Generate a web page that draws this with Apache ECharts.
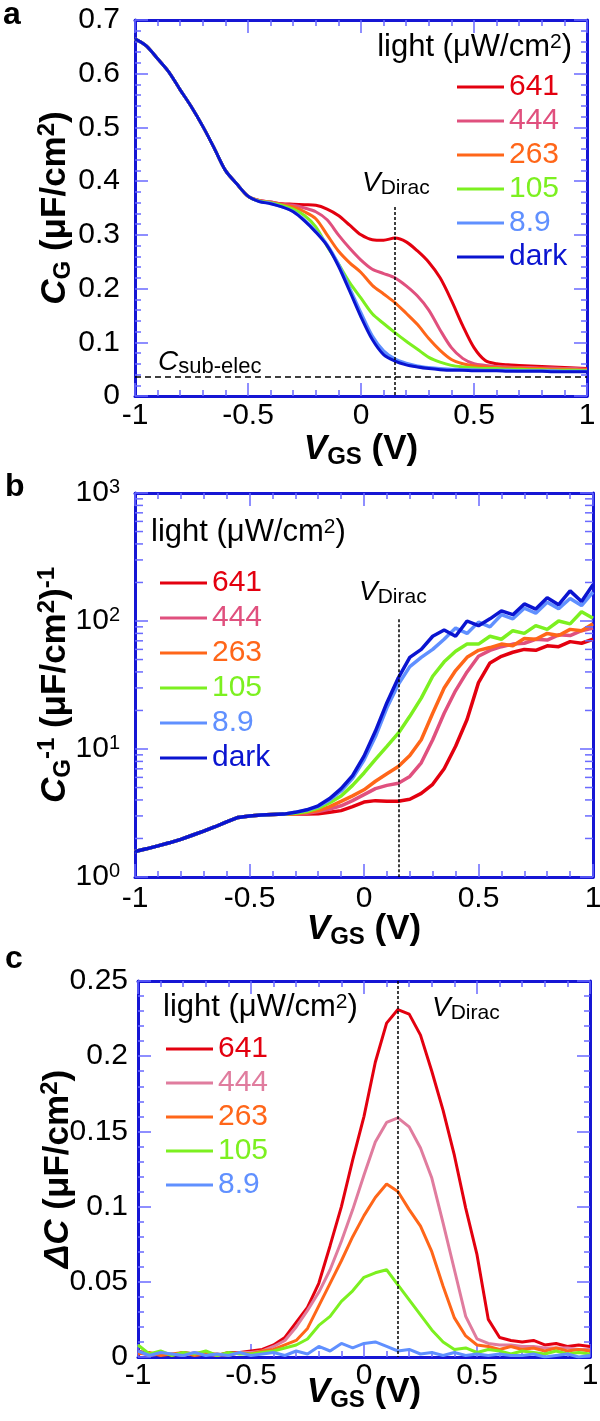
<!DOCTYPE html>
<html>
<head>
<meta charset="utf-8">
<script src="https://cdn.jsdelivr.net/npm/echarts@6.0.0/dist/echarts.min.js"></script>
<style>
html, body { margin: 0; padding: 0; background: #fff; }
#chart { width: 600px; height: 1421px; }
</style>
</head>
<body>
<div id="chart"></div>
<script>
var FONT = 'Liberation Sans, Arial, sans-serif';
var frameColor = '#1616d4';
var tickColor = '#6a6aff';

// legend names and line colours (641, 444, 263, 105, 8.9, dark)
var legendNames = ['641', '444', '263', '105', '8.9', 'dark'];
var lineColors = ['#e3000f', '#e0507e', '#ff6619', '#7cf020', '#6090ff', '#0a14d0'];
var pinkC = '#e07c9e';

// gate voltage V_GS (V)
var vgs = [-1, -0.95, -0.9, -0.85, -0.8, -0.75, -0.7, -0.65, -0.6, -0.55, -0.5, -0.45, -0.4, -0.35, -0.3, -0.25, -0.2, -0.15, -0.1, -0.05,
    0, 0.05, 0.1, 0.15, 0.2, 0.25, 0.3, 0.35, 0.4, 0.45, 0.5, 0.55, 0.6, 0.65, 0.7, 0.75, 0.8, 0.85, 0.9, 0.95, 1];

// panel a : C_G (uF/cm2)
var cgRed = [0.665, 0.652, 0.628, 0.603, 0.570, 0.538, 0.502, 0.462, 0.420, 0.395, 0.372, 0.364, 0.361,
    0.358, 0.357, 0.356, 0.355, 0.348, 0.336, 0.318, 0.300, 0.291, 0.290, 0.294, 0.287, 0.270, 0.249, 0.220, 0.178, 0.131, 0.090,
    0.066, 0.060, 0.058, 0.057, 0.056, 0.055, 0.054, 0.053, 0.052, 0.051];
var cgPink = [0.665, 0.652, 0.628, 0.603, 0.570, 0.538, 0.502, 0.462, 0.420, 0.395, 0.372, 0.364, 0.361,
    0.357, 0.355, 0.350, 0.343, 0.328, 0.300, 0.275, 0.253, 0.236, 0.228, 0.220, 0.205, 0.186, 0.160, 0.123, 0.090, 0.070, 0.060,
    0.057, 0.055, 0.054, 0.053, 0.053, 0.052, 0.052, 0.051, 0.051, 0.050];
var cgOrange = [0.665, 0.652, 0.628, 0.603, 0.570, 0.538, 0.502, 0.462, 0.420, 0.395, 0.372, 0.363, 0.360,
    0.356, 0.352, 0.343, 0.330, 0.300, 0.270, 0.248, 0.230, 0.206, 0.190, 0.174, 0.154, 0.133, 0.107, 0.085, 0.068, 0.060, 0.056,
    0.054, 0.053, 0.052, 0.052, 0.051, 0.051, 0.050, 0.050, 0.049, 0.049];
var cgGreen = [0.665, 0.652, 0.628, 0.603, 0.570, 0.538, 0.502, 0.462, 0.420, 0.395, 0.372, 0.363, 0.360,
    0.355, 0.348, 0.336, 0.315, 0.279, 0.246, 0.211, 0.182, 0.153, 0.135, 0.118, 0.102, 0.087, 0.072, 0.063, 0.057, 0.054, 0.052,
    0.051, 0.051, 0.050, 0.050, 0.049, 0.049, 0.048, 0.048, 0.048, 0.047];
var cgLight = [0.665, 0.652, 0.628, 0.603, 0.570, 0.538, 0.502, 0.462, 0.420, 0.395, 0.372, 0.362, 0.359,
    0.352, 0.344, 0.328, 0.307, 0.282, 0.246, 0.201, 0.155, 0.112, 0.084, 0.069, 0.061, 0.056, 0.053, 0.051, 0.050, 0.049, 0.049,
    0.048, 0.048, 0.048, 0.047, 0.047, 0.047, 0.047, 0.046, 0.046, 0.046];
var cgDark = [0.665, 0.652, 0.628, 0.603, 0.570, 0.538, 0.502, 0.462, 0.420, 0.395, 0.372, 0.362, 0.358,
    0.352, 0.343, 0.326, 0.305, 0.280, 0.242, 0.195, 0.147, 0.105, 0.077, 0.065, 0.058, 0.054, 0.051, 0.049, 0.048, 0.048, 0.047,
    0.047, 0.047, 0.046, 0.046, 0.046, 0.046, 0.045, 0.045, 0.045, 0.045];

// panel b : C_G^-1 (uF/cm2)^-1
var invRed = [1.58, 1.66, 1.75, 1.85, 1.97, 2.12, 2.28, 2.47, 2.7, 2.92, 3.0, 3.05, 3.08, 3.1,
    3.1, 3.11, 3.12, 3.2, 3.3, 3.55, 3.85, 3.95, 3.9, 3.9, 4.05, 4.5, 5.3, 7.0, 10.5, 17, 33,
    47, 53, 57, 60, 59, 64, 63, 69, 67, 72];
var invPink = [1.58, 1.66, 1.75, 1.85, 1.97, 2.12, 2.28, 2.47, 2.7, 2.92, 3.0, 3.05, 3.08, 3.1,
    3.1, 3.15, 3.25, 3.4, 3.6, 3.95, 4.4, 4.9, 5.2, 5.4, 6.1, 7.8, 11.8, 19, 28.6, 40, 53,
    59, 63, 66, 67, 72, 71, 78, 77, 84, 88];
var invOrange = [1.58, 1.66, 1.75, 1.85, 1.97, 2.12, 2.28, 2.47, 2.7, 2.92, 3.0, 3.05, 3.08, 3.1,
    3.1, 3.2, 3.3, 3.55, 3.9, 4.3, 4.8, 5.6, 6.4, 7.3, 8.9, 11.8, 19, 30, 41, 52, 59,
    62, 66, 64, 73, 72, 80, 77, 86, 84, 95];
var invGreen = [1.58, 1.66, 1.75, 1.85, 1.97, 2.12, 2.28, 2.47, 2.7, 2.92, 3.0, 3.05, 3.08, 3.1,
    3.15, 3.25, 3.45, 3.8, 4.3, 5.2, 6.5, 8.3, 10.5, 13.3, 18, 25, 37, 48, 58, 66, 66,
    76, 72, 84, 80, 92, 86, 100, 95, 118, 105];
var invLight = [1.58, 1.66, 1.75, 1.85, 1.97, 2.12, 2.28, 2.47, 2.7, 2.92, 3.0, 3.05, 3.08, 3.1,
    3.2, 3.33, 3.55, 4.0, 4.7, 5.9, 8.2, 12.5, 21, 32, 44, 52, 60, 72, 88, 80, 98,
    90, 112, 104, 126, 115, 140, 125, 150, 132, 168];
var invDark = [1.58, 1.66, 1.75, 1.85, 1.97, 2.12, 2.28, 2.47, 2.7, 2.92, 3.0, 3.05, 3.08, 3.1,
    3.2, 3.35, 3.6, 4.1, 4.9, 6.2, 8.8, 13.8, 23, 36, 52, 60, 76, 85, 76, 100, 92,
    104, 120, 112, 136, 124, 152, 134, 172, 142, 192];

// panel c : delta C (uF/cm2)
var dcRed = [0.004, 0.002, 0.003, 0.001, 0.003, 0.002, 0.003, 0.001, 0.003, 0.003, 0.004,
    0.005, 0.008, 0.013, 0.023, 0.033, 0.049, 0.074, 0.100, 0.131, 0.160,
    0.196, 0.222, 0.231, 0.228, 0.214, 0.190, 0.164, 0.134, 0.099, 0.068,
    0.025, 0.013, 0.011, 0.010, 0.011, 0.008, 0.009, 0.007, 0.008, 0.007];
var dcPink = [0.003, 0.001, 0.002, 0.002, 0.001, 0.003, 0.002, 0.001, 0.002, 0.003, 0.003,
    0.004, 0.007, 0.011, 0.020, 0.031, 0.043, 0.058, 0.077, 0.098, 0.121,
    0.143, 0.156, 0.159, 0.153, 0.139, 0.119, 0.089, 0.058, 0.027, 0.012,
    0.009, 0.008, 0.008, 0.007, 0.007, 0.006, 0.006, 0.006, 0.005, 0.005];
var dcOrange = [0.002, 0.003, 0.001, 0.002, 0.003, 0.001, 0.002, 0.002, 0.001, 0.003, 0.002,
    0.004, 0.005, 0.008, 0.011, 0.019, 0.034, 0.049, 0.064, 0.080, 0.094,
    0.106, 0.115, 0.110, 0.098, 0.087, 0.070, 0.047, 0.026, 0.014, 0.008,
    0.007, 0.005, 0.007, 0.005, 0.006, 0.004, 0.006, 0.004, 0.005, 0.004];
var dcGreen = [0.008, 0.002, 0.004, 0.001, 0.003, 0.002, 0.004, 0.001, 0.003, 0.002, 0.002,
    0.003, 0.004, 0.006, 0.008, 0.012, 0.021, 0.027, 0.037, 0.044, 0.053,
    0.056, 0.058, 0.048, 0.038, 0.028, 0.018, 0.010, 0.005, 0.006, 0.003,
    0.005, 0.004, 0.002, 0.004, 0.003, 0.002, 0.004, 0.002, 0.003, 0.002];
var dcLight = [0.004, 0.001, 0.003, 0.002, 0.001, 0.003, 0.001, 0.002, 0.001, 0.003, 0.001,
    0.002, 0.003, 0.001, 0.004, 0.002, 0.007, 0.004, 0.009, 0.006, 0.009,
    0.010, 0.007, 0.004, 0.005, 0.002, 0.003, 0.001, 0.003, 0.001, 0.002,
    0.001, 0.002, 0.001, 0.001, 0.002, 0.000, 0.001, 0.002, 0.000, 0.001];

var vDirac = 0.15;
var cSubElec = 0.035;
// minor ticks of the log axis in panel b
var logMinor = [2, 3, 4, 5, 6, 7, 8, 9, 20, 30, 40, 50, 60, 70, 80, 90, 200, 300, 400, 500, 600, 700, 800, 900];

var nameRich = {
    vi: {fontFamily: FONT, fontSize: 35, fontWeight: 'bold', fontStyle: 'italic', lineHeight: 40, color: '#000'},
    b: {fontFamily: FONT, fontSize: 35, fontWeight: 'bold', lineHeight: 40, color: '#000'},
    sub: {fontFamily: FONT, fontSize: 24, fontWeight: 'bold', lineHeight: 22, verticalAlign: 'bottom', color: '#000'},
    sup: {fontFamily: FONT, fontSize: 24, fontWeight: 'bold', lineHeight: 18, verticalAlign: 'top', color: '#000'}
};

var tickLabel = {fontFamily: FONT, fontSize: 30, color: '#000'};

function xAxes(gi, nameGap, labelMargin) {
    var list = [];
    ['bottom', 'top'].forEach(function (pos) {
        var ax = {
            type: 'value', gridIndex: gi, position: pos, min: -1, max: 1, interval: 0.5,
            axisLine: {show: true, onZero: false, lineStyle: {color: frameColor, width: 3}},
            axisTick: {show: true, inside: true, length: 13, lineStyle: {color: tickColor, width: 1.5}},
            minorTick: {show: true, splitNumber: 5, length: 6, lineStyle: {color: tickColor, width: 1.5}},
            splitLine: {show: false},
            axisLabel: {show: false}
        };
        if (pos === 'bottom') {
            ax.axisLabel = Object.assign({show: true, margin: labelMargin}, tickLabel);
            ax.name = '{vi|V}{sub|GS}{b| (V)}';
            ax.nameLocation = 'middle';
            ax.nameGap = nameGap;
            ax.nameMoveOverlap = false;
            ax.nameTextStyle = {rich: nameRich};
        }
        list.push(ax);
    });
    return list;
}

function yAxes(gi, opt) {
    var list = [];
    ['left', 'right'].forEach(function (pos) {
        var ax = {
            type: opt.type, gridIndex: gi, position: pos, min: opt.min, max: opt.max,
            axisLine: {show: true, onZero: false, lineStyle: {color: frameColor, width: 3}},
            axisTick: {show: true, inside: true, length: 13, lineStyle: {color: tickColor, width: 1.5}},
            splitLine: {show: false},
            axisLabel: {show: false}
        };
        if (opt.type === 'log') {
            ax.logBase = 10;
        } else {
            ax.interval = opt.interval;
            ax.minorTick = {show: true, splitNumber: 5, length: 6, lineStyle: {color: tickColor, width: 1.5}};
        }
        if (pos === 'left') {
            ax.axisLabel = Object.assign({show: true, margin: opt.margin}, tickLabel, opt.label || {});
            ax.name = opt.name;
            ax.nameLocation = 'middle';
            ax.nameRotate = 90;
            ax.nameGap = opt.nameGap;
            ax.nameMoveOverlap = false;
            ax.nameTextStyle = {rich: nameRich};
        }
        list.push(ax);
    });
    return list;
}

function lineSeries(name, values, color, gi, width, smooth) {
    return {
        type: 'line', name: name, xAxisIndex: gi * 2, yAxisIndex: gi * 2,
        data: vgs.map(function (v, i) { return [v, values[i]]; }),
        symbol: 'none', showSymbol: false, silent: true, smooth: smooth || false,
        lineStyle: {color: color, width: width}, itemStyle: {color: color}
    };
}

function dashLine(from, to, dash) {
    return {
        silent: true, symbol: 'none', animation: false, label: {show: false},
        lineStyle: {color: '#000', width: 1.5, type: dash, opacity: 1},
        emphasis: {disabled: true},
        data: [[{coord: from}, {coord: to}]]
    };
}

function legendFor(n, left, top, gap, pink) {
    return {
        orient: 'vertical', left: left, top: top, padding: 0, itemGap: gap,
        itemWidth: 47, itemHeight: 3, icon: 'rect', selectedMode: false,
        textStyle: {fontFamily: FONT, fontSize: 30, lineHeight: 30},
        data: legendNames.slice(0, n).map(function (nm, i) {
            var c = (i === 1 && pink) ? pink : lineColors[i];
            return {name: nm, textStyle: {color: c}, itemStyle: {color: c}};
        })
    };
}

function textEl(x, y, text, align, style) {
    return {
        type: 'text', x: x, y: y, silent: true,
        style: Object.assign({
            text: text, align: align, textAlign: align,
            verticalAlign: 'middle', textVerticalAlign: 'middle', fill: '#000'
        }, style)
    };
}

var lightRich = {
    sup: {fontFamily: FONT, fontSize: 21, lineHeight: 14, verticalAlign: 'top', fill: '#000', color: '#000'}
};
var diracRich = {
    v: {fontFamily: FONT, fontSize: 28, fontStyle: 'italic', lineHeight: 32, fill: '#000', color: '#000'},
    s: {fontFamily: FONT, fontSize: 21, lineHeight: 12, verticalAlign: 'bottom', fill: '#000', color: '#000'}
};
var subElecRich = {
    v: {fontFamily: FONT, fontSize: 28, fontStyle: 'italic', lineHeight: 32, fill: '#000', color: '#000'},
    s: {fontFamily: FONT, fontSize: 22, lineHeight: 22, verticalAlign: 'bottom', fill: '#000', color: '#000'}
};
var lightStyle = {fontFamily: FONT, fontSize: 31, rich: lightRich};

var chart = echarts.init(document.getElementById('chart'), null, {renderer: 'canvas'});

var seriesA = [cgRed, cgPink, cgOrange, cgGreen, cgLight, cgDark].map(function (d, i) {
    return lineSeries(legendNames[i], d, lineColors[i], 0, 3, 0.3);
});
seriesA[5].markLine = dashLine([vDirac, 0.352], [vDirac, 0], [3, 2]);
seriesA[4].markLine = dashLine([-1, cSubElec], [1, cSubElec], [6, 4]);

var seriesB = [invRed, invPink, invOrange, invGreen, invLight, invDark].map(function (d, i) {
    return lineSeries(legendNames[i], d, lineColors[i], 1, 3.5);
});
seriesB[5].markLine = dashLine([vDirac, 103], [vDirac, 1], [3, 2]);

var seriesC = [dcRed, dcPink, dcOrange, dcGreen, dcLight].map(function (d, i) {
    return lineSeries(legendNames[i], d, i === 1 ? pinkC : lineColors[i], 2, 3);
});
seriesC[0].markLine = dashLine([vDirac, 0.25], [vDirac, 0], [3, 2]);

var logTicks = {
    type: 'custom', xAxisIndex: 2, yAxisIndex: 2, silent: true, clip: false, z: 5,
    data: logMinor.map(function (v) { return [-1, v]; }),
    encode: {x: 0, y: 1},
    renderItem: function (params, api) {
        var y = api.coord([-1, api.value(1)])[1];
        var cs = params.coordSys;
        var st = {stroke: tickColor, lineWidth: 1.5};
        return {
            type: 'group', children: [
                {type: 'line', shape: {x1: cs.x, y1: y, x2: cs.x + 8, y2: y}, style: st},
                {type: 'line', shape: {x1: cs.x + cs.width - 8, y1: y, x2: cs.x + cs.width, y2: y}, style: st}
            ]
        };
    }
};

var option = {
    animation: false,
    backgroundColor: '#fff',
    grid: [
        {left: 135, top: 20, width: 452, height: 376, outerBoundsMode: 'none'},
        {left: 135, top: 493, width: 458, height: 384, outerBoundsMode: 'none'},
        {left: 138, top: 981, width: 452, height: 376, outerBoundsMode: 'none'}
    ],
    xAxis: [].concat(xAxes(0, 33, 5), xAxes(1, 32, 7), xAxes(2, 15, 4)),
    yAxis: [].concat(
        yAxes(0, {type: 'value', min: 0, max: 0.7, interval: 0.1, margin: 15, nameGap: 60,
            name: '{vi|C}{sub|G}{b| (μF/cm}{sup|2}{b|)}'}),
        yAxes(1, {type: 'log', min: 1, max: 1000, margin: 15, nameGap: 60,
            name: '{vi|C}{sub|G}{sup|-1}{b| (μF/cm}{sup|2}{b|)}{sup|-1}',
            label: {
                lineHeight: 32,
                formatter: function (v) { return '10{e|' + Math.round(Math.log(v) / Math.LN10) + '}'; },
                rich: {e: {fontFamily: FONT, fontSize: 20, lineHeight: 14, verticalAlign: 'top', color: '#000'}}
            }}),
        yAxes(2, {type: 'value', min: 0, max: 0.25, interval: 0.05, margin: 10, nameGap: 60,
            name: '{vi|ΔC}{b| (μF/cm}{sup|2}{b|)}'})
    ),
    legend: [
        legendFor(6, 457, 72, 4),
        legendFor(6, 160, 568, 5),
        legendFor(5, 166, 1034, 4, pinkC)
    ],
    graphic: {elements: [
        textEl(3, 15, 'a', 'left', {fontFamily: FONT, fontSize: 32, fontWeight: 'bold'}),
        textEl(5, 487, 'b', 'left', {fontFamily: FONT, fontSize: 32, fontWeight: 'bold'}),
        textEl(5, 959, 'c', 'left', {fontFamily: FONT, fontSize: 32, fontWeight: 'bold'}),
        textEl(572, 47, 'light (μW/cm{sup|2})', 'right', lightStyle),
        textEl(151, 532, 'light (μW/cm{sup|2})', 'left', lightStyle),
        textEl(163, 1007, 'light (μW/cm{sup|2})', 'left', lightStyle),
        textEl(362, 183, '{v|V}{s|Dirac}', 'left', {rich: diracRich}),
        textEl(359, 592, '{v|V}{s|Dirac}', 'left', {rich: diracRich}),
        textEl(432, 1008, '{v|V}{s|Dirac}', 'left', {rich: diracRich}),
        textEl(158, 362, '{v|C}{s|sub-elec}', 'left', {rich: subElecRich})
    ]},
    series: [].concat(seriesA, seriesB, seriesC, [logTicks])
};

chart.setOption(option);
</script>
</body>
</html>
